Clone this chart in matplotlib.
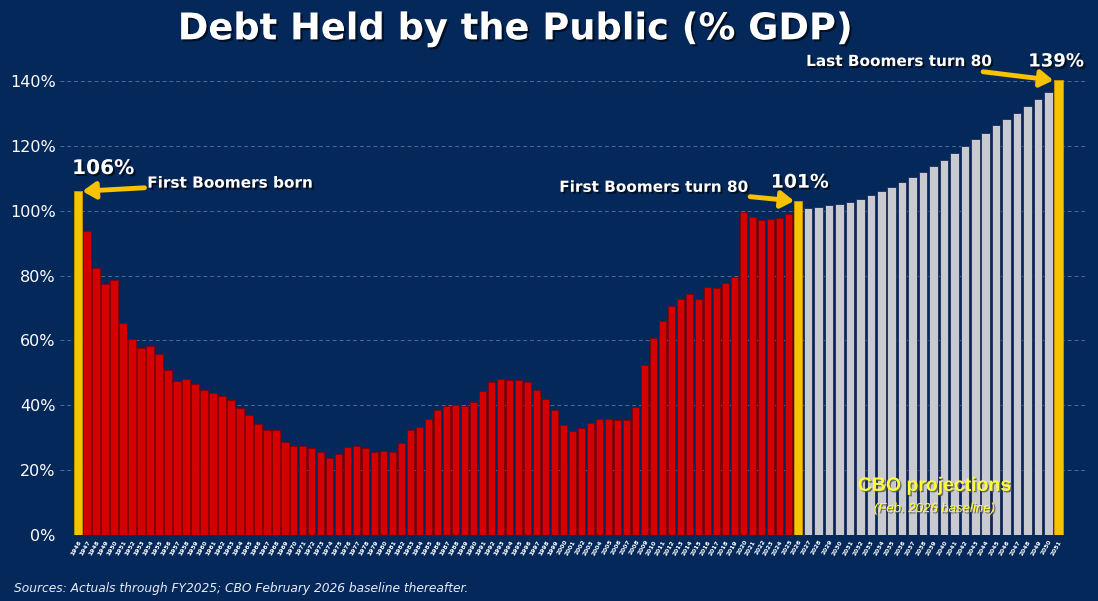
import numpy as np
import matplotlib.pyplot as plt
import matplotlib.patheffects as pe

# ---- data ----
years_actual = list(range(1946, 2026))
debt_actual = [106, 93.7, 82.3, 77.4, 78.6, 65.4, 60.4, 57.7, 58.3, 55.8,
               50.9, 47.5, 48.1, 46.6, 44.7, 43.8, 42.9, 41.6, 39.2, 37.0,
               34.2, 32.4, 32.4, 28.7, 27.4, 27.4, 26.8, 25.6, 23.7, 25.0,
               27.1, 27.4, 26.8, 25.6, 25.9, 25.6, 28.4, 32.4, 33.3, 35.8,
               38.5, 39.8, 40.1, 39.8, 41.0, 44.4, 47.2, 48.1, 47.8, 47.8,
               47.2, 44.7, 41.9, 38.5, 33.9, 32.1, 33.0, 34.5, 35.8, 35.8,
               35.5, 35.5, 39.5, 52.4, 60.7, 66.0, 70.6, 72.8, 74.3, 72.8,
               76.5, 76.2, 77.7, 79.6, 99.6, 98.1, 97.1, 97.4, 97.7, 99.0]
years_proj = list(range(2026, 2052))
debt_proj = [103, 100.9, 101.2, 101.7, 102.2, 102.8, 103.7, 104.8, 106.0, 107.3,
             108.9, 110.4, 112.0, 113.8, 115.7, 117.7, 119.9, 122.0, 124.1, 126.4,
             128.4, 130.2, 132.4, 134.5, 136.6, 140.2]
highlight_years = [1946, 2026, 2051]

BG = '#05285a'
RED = '#d40000'
GRAY = '#c9cad0'
YELLOW = '#f7c200'

years = np.array(years_actual + years_proj)
debt = np.array(debt_actual + debt_proj)

# projection bars are drawn a bit wider apart than the historical ones
pos = np.where(years <= 2026, years - 1946, 80 + (years - 2026) * 1.16).astype(float)
widths = np.where(years <= 2025, 0.8, 0.95)
colors = [YELLOW if y in highlight_years else (RED if y <= 2025 else GRAY) for y in years]
edges = ['#8a0000' if (y <= 2025 and y not in highlight_years) else
         ('#c89a00' if y in highlight_years else '#1b2c5c') for y in years]

fig = plt.figure(figsize=(10.98, 6.01), dpi=100, facecolor=BG)
ax = fig.add_axes([0.0546, 0.1098, 0.9334, 0.7987], facecolor=BG)

ax.bar(pos, debt, width=widths, color=colors, edgecolor=edges, linewidth=0.6, zorder=3)

ax.set_xlim(-2, 111.9)
ax.set_ylim(0, 148)
ax.set_yticks(np.arange(0, 141, 20))
ax.set_yticklabels([f'{v}%' for v in range(0, 141, 20)], color='white', fontsize=11.5)
ax.yaxis.grid(True, linestyle=(0, (4, 3)), color='#7f93b8', alpha=0.6, linewidth=0.7, zorder=0)
ax.tick_params(axis='y', length=0, pad=3)
ax.set_xticks(pos)
ax.set_xticklabels([str(y) for y in years], rotation=60, fontsize=4.3,
                   color='white', fontweight='bold', ha='right', rotation_mode='anchor')
ax.tick_params(axis='x', length=0, pad=3)
for s in ax.spines.values():
    s.set_visible(False)

shadow = [pe.withSimplePatchShadow(offset=(1.5, -1.5), shadow_rgbFace='black', alpha=0.6)]

fig.text(0.469, 0.952, 'Debt Held by the Public (% GDP)', ha='center', va='center',
         color='white', fontsize=26.5, fontweight='bold', path_effects=shadow)

# annotations
arrow = dict(arrowstyle='-|>,head_length=0.7,head_width=0.45', color=YELLOW, lw=3.5,
             shrinkA=0, shrinkB=0)
tkw = dict(color='white', fontweight='bold', path_effects=shadow, zorder=6)

ax.text(pos[0] + 2.8, 113, '106%', ha='center', va='center', fontsize=14.5, **tkw)
ax.annotate('First Boomers born', xy=(pos[0] + 0.5, debt[0]), xytext=(7.7, 108.5),
            ha='left', va='center', fontsize=11, arrowprops=arrow, **tkw)

i26 = len(years_actual)
ax.text(pos[i26] + 0.2, 108.8, '101%', ha='center', va='center', fontsize=13.5, **tkw)
ax.annotate('First Boomers turn 80', xy=(pos[i26] - 0.4, debt_proj[0]), xytext=(74.4, 107.2),
            ha='right', va='center', fontsize=11, arrowprops=arrow, **tkw)

ax.text(pos[-1] - 0.3, 146, '139%', ha='center', va='center', fontsize=13, **tkw)
ax.annotate('Last Boomers turn 80', xy=(pos[-1] - 0.6, debt_proj[-1]), xytext=(101.5, 146),
            ha='right', va='center', fontsize=11, arrowprops=arrow, **tkw)

yshadow = [pe.withSimplePatchShadow(offset=(1, -1), shadow_rgbFace='#555555', alpha=0.8)]
ax.text(95.2, 15, 'CBO projections', ha='center', va='center', color='#ffff33',
        fontsize=14, fontweight='bold', family=['Liberation Sans Narrow', 'Liberation Sans'],
        path_effects=yshadow, zorder=6)
ax.text(95.2, 8, '(Feb. 2026 baseline)', ha='center', va='center', color='#ffff33',
        fontsize=9.5, style='italic', family=['Liberation Sans Narrow', 'Liberation Sans'],
        path_effects=yshadow, zorder=6)

fig.text(0.013, 0.021, 'Sources: Actuals through FY2025; CBO February 2026 baseline thereafter.',
         ha='left', va='center', color='#e8ecf4', fontsize=8.8, style='italic')

fig.savefig('out.png', dpi=100, facecolor=BG)
